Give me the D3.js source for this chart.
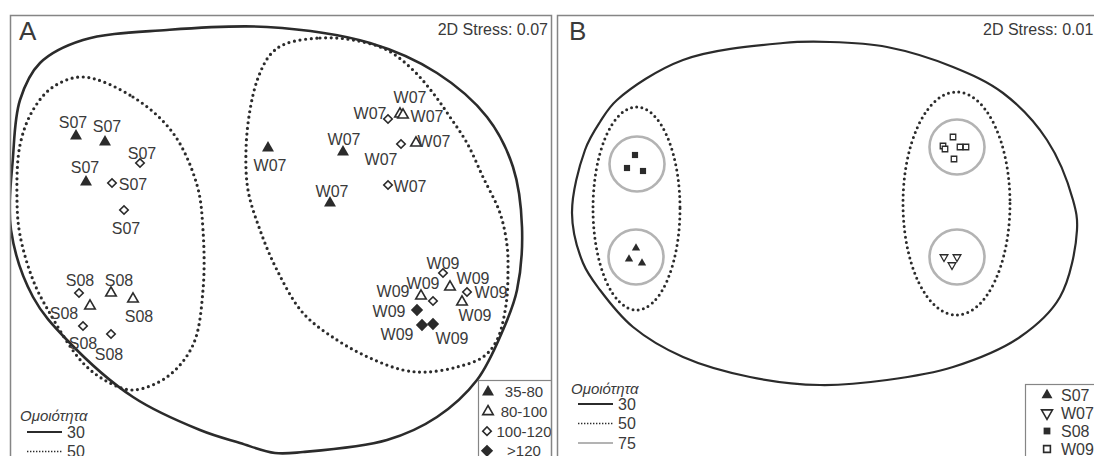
<!DOCTYPE html>
<html><head><meta charset="utf-8">
<script src="https://cdn.jsdelivr.net/npm/d3@7"></script>
<style>
html,body{margin:0;padding:0;background:#fff;}
svg{display:block;font-family:"Liberation Sans",Arial,Helvetica,sans-serif;}
</style></head><body>
<svg id="chart" width="1094" height="456"></svg>
<script>
// ---- categories and labels ----
const tempClasses = ["35-80", "80-100", "100-120", ">120"];
const groups = ["S07", "W07", "S08", "W09"];
const similarityLevels = ["30", "50", "75"];
const similarityTitle = "Ομοιότητα";
const panelTitles = ["A", "B"];
const stressLabels = ["2D Stress: 0.07", "2D Stress: 0.01"];

// ---- Panel A: MDS ordination of individual samples (t = temperature class index) ----
const s07A = [
  {x:-2.06, y:0.99, t:0, lx:-2.09, ly:1.13},
  {x:-1.77, y:0.93, t:0, lx:-1.75, ly:1.09},
  {x:-1.42, y:0.72, t:2, lx:-1.40, ly:0.82},
  {x:-1.96, y:0.53, t:0, lx:-1.97, ly:0.68},
  {x:-1.70, y:0.52, t:2, lx:-1.49, ly:0.51},
  {x:-1.58, y:0.25, t:2, lx:-1.56, ly:0.07}
];
const s08A = [
  {x:-2.03, y:-0.58, t:2, lx:-2.02, ly:-0.45},
  {x:-1.71, y:-0.58, t:1, lx:-1.63, ly:-0.45},
  {x:-1.49, y:-0.64, t:1, lx:-1.43, ly:-0.81},
  {x:-1.92, y:-0.71, t:1, lx:-2.18, ly:-0.78},
  {x:-1.99, y:-0.91, t:2, lx:-1.99, ly:-1.08},
  {x:-1.71, y:-0.99, t:2, lx:-1.73, ly:-1.19}
];
const w07A = [
  {x:-0.14, y:0.87, t:0, lx:-0.12, ly:0.70},
  {x:0.61, y:0.83, t:0, lx:0.62, ly:0.96},
  {x:0.48, y:0.32, t:0, lx:0.50, ly:0.44},
  {x:1.06, y:1.16, t:2, lx:0.88, ly:1.22},
  {x:1.18, y:1.21, t:1, lx:1.28, ly:1.38},
  {x:1.21, y:1.20, t:1, lx:1.45, ly:1.19},
  {x:1.19, y:0.91, t:2, lx:0.99, ly:0.76},
  {x:1.34, y:0.92, t:1, lx:1.52, ly:0.94},
  {x:1.06, y:0.50, t:2, lx:1.28, ly:0.49}
];
const w09A = [
  {x:1.61, y:-0.38, t:2, lx:1.61, ly:-0.28},
  {x:1.68, y:-0.52, t:1, lx:1.91, ly:-0.43},
  {x:1.85, y:-0.57, t:2, lx:2.09, ly:-0.57},
  {x:1.39, y:-0.61, t:1, lx:1.41, ly:-0.48},
  {x:1.51, y:-0.66, t:2, lx:1.11, ly:-0.56},
  {x:1.80, y:-0.67, t:1, lx:1.93, ly:-0.80},
  {x:1.35, y:-0.75, t:3, lx:1.07, ly:-0.76},
  {x:1.40, y:-0.90, t:3, lx:1.15, ly:-0.99},
  {x:1.51, y:-0.89, t:3, lx:1.70, ly:-1.03}
];

// cluster outlines in panel A (similarity 30 and 50)
const hullA30 = [[-2.71,0.05],[-2.69,0.78],[-2.62,1.35],[-2.42,1.72],[-1.99,1.95],[-1.15,2.05],
  [-0.15,2.08],[0.88,1.92],[1.55,1.62],[2.05,1.18],[2.31,0.68],[2.40,0.08],[2.35,-0.55],
  [2.21,-0.95],[1.95,-1.45],[1.55,-1.82],[1.05,-2.05],[0.21,-2.17],[-0.07,-2.18],[-0.42,-2.08],
  [-0.82,-1.95],[-1.49,-1.62],[-2.15,-1.05],[-2.49,-0.62]];
const hullA50s = [[-1.99,1.58],[-1.49,1.38],[-1.09,1.02],[-0.85,0.50],[-0.79,0.05],[-0.79,-0.55],
  [-0.89,-1.10],[-1.15,-1.42],[-1.49,-1.55],[-1.72,-1.48],[-1.99,-1.28],[-2.34,-0.75],
  [-2.49,-0.45],[-2.62,0.00],[-2.65,0.35],[-2.62,0.90],[-2.49,1.25],[-2.29,1.48]];
const hullA50w = [[0.03,1.91],[0.38,1.97],[0.71,1.95],[1.05,1.85],[1.31,1.65],[1.51,1.42],
  [1.68,1.18],[1.85,0.92],[2.01,0.58],[2.18,0.22],[2.25,-0.10],[2.26,-0.35],[2.24,-0.70],
  [2.15,-1.05],[2.01,-1.22],[1.75,-1.32],[1.45,-1.37],[1.21,-1.35],[0.88,-1.23],[0.55,-1.05],
  [0.21,-0.78],[-0.05,-0.35],[-0.22,0.05],[-0.34,0.45],[-0.36,0.85],[-0.32,1.25],[-0.24,1.57],[-0.12,1.80]];

// ---- Panel B: MDS ordination of group replicates ----
const s07B = [[-1.93,-0.13],[-2.00,-0.24],[-1.87,-0.28]];
const w07B = [[1.15,-0.22],[1.28,-0.22],[1.23,-0.30]];
const s08B = [[-1.94,0.80],[-2.02,0.67],[-1.86,0.64]];
const w09B = [[1.24,0.98],[1.14,0.89],[1.16,0.86],[1.31,0.88],[1.37,0.88],[1.25,0.76]];

// outlines in panel B: similarity 30 (closed curve), 50 (ellipses), 75 (circles)
const hullB30 = [[-2.57,0.22],[-2.44,0.85],[-2.29,1.13],[-2.12,1.35],[-1.46,1.75],[-0.46,1.92],
  [0.01,1.93],[0.58,1.88],[1.24,1.68],[1.74,1.42],[2.18,0.95],[2.44,0.35],[2.48,0.05],
  [2.31,-0.62],[1.91,-1.02],[1.24,-1.32],[0.58,-1.45],[-0.09,-1.50],[-0.79,-1.42],
  [-1.46,-1.22],[-1.96,-0.92],[-2.29,-0.55],[-2.46,-0.28]];
const ellipsesB50 = [{cx:-1.925, cy:0.265, rx:0.435, ry:1.015}, {cx:1.275, cy:0.315, rx:0.535, ry:1.115}];
const circlesB75 = [{cx:-1.92, cy:0.71, r:0.275}, {cx:-1.93, cy:-0.22, r:0.275},
                    {cx:1.28, cy:0.88, r:0.275}, {cx:1.28, cy:-0.22, r:0.275}];

// ---- layout ----
const svg = d3.select("#chart");
const ink = "#2b2b2b", textInk = "#3a3a3a", frame = "#858585", grey75 = "#b3b3b3";
const panelTop = 15, panelBottom = 480;

const xA = d3.scaleLinear().domain([-2.72, 2.70]).range([10, 552]);
const yA = d3.scaleLinear().domain([2.20, -2.45]).range([panelTop, panelBottom]);
const xB = d3.scaleLinear().domain([-2.72, 2.71]).range([557, 1100]);
const yB = yA.copy();

// symbol helpers
function sym(kind, size) {
  const map = {tri: d3.symbolTriangle, sq: d3.symbolSquare, dia: d3.symbolSquare};
  return d3.symbol().type(map[kind]).size(size)();
}
function rotFor(kind) { return kind === "dia" ? 45 : 0; }

// temperature class styles in panel A
const tempStyle = [
  {kind:"tri", fill:ink, stroke:"none", size:62, rot:0},
  {kind:"tri", fill:"#fff", stroke:ink, size:48, rot:0},
  {kind:"dia", fill:"#fff", stroke:ink, size:36, rot:45},
  {kind:"dia", fill:ink, stroke:ink, size:50, rot:45}
];
// group styles in panel B
const groupStyle = {
  S07: {kind:"tri", fill:ink, stroke:"none", size:30, rot:0},
  W07: {kind:"tri", fill:"#fff", stroke:ink, size:26, rot:180},
  S08: {kind:"sq", fill:ink, stroke:"none", size:38, rot:0},
  W09: {kind:"sq", fill:"#fff", stroke:ink, size:30, rot:0}
};

function drawSymbol(g, px, py, st, sw) {
  g.append("path")
    .attr("d", sym(st.kind, st.size))
    .attr("transform", `translate(${px},${py}) rotate(${st.rot})`)
    .attr("fill", st.fill)
    .attr("stroke", st.stroke)
    .attr("stroke-width", sw)
    .attr("stroke-linejoin", "miter");
}

const closedCurve = (x, y) => d3.line()
  .curve(d3.curveCatmullRomClosed.alpha(0.5))
  .x(d => x(d[0])).y(d => y(d[1]));

// clip paths for panels
const defs = svg.append("defs");
[["clipA", xA], ["clipB", xB]].forEach(([id, x]) => {
  defs.append("clipPath").attr("id", id).append("rect")
    .attr("x", x.range()[0]).attr("y", panelTop)
    .attr("width", x.range()[1] - x.range()[0]).attr("height", panelBottom - panelTop);
});

// ================= Panel A =================
const gA = svg.append("g").attr("clip-path", "url(#clipA)");

gA.append("path").attr("d", closedCurve(xA, yA)(hullA30))
  .attr("fill", "none").attr("stroke", ink).attr("stroke-width", 2.6);
[hullA50s, hullA50w].forEach(h => {
  gA.append("path").attr("d", closedCurve(xA, yA)(h))
    .attr("fill", "none").attr("stroke", ink).attr("stroke-width", 3.2)
    .attr("stroke-linecap", "round").attr("stroke-dasharray", "0 5.6");
});

const samplesA = [
  {name: groups[0], pts: s07A}, {name: groups[2], pts: s08A},
  {name: groups[1], pts: w07A}, {name: groups[3], pts: w09A}
];
samplesA.forEach(grp => {
  grp.pts.forEach(p => {
    drawSymbol(gA, xA(p.x), yA(p.y), tempStyle[p.t], 1.6);
  });
});
samplesA.forEach(grp => {
  grp.pts.forEach(p => {
    gA.append("text").attr("x", xA(p.lx)).attr("y", yA(p.ly)).attr("dy", "0.36em")
      .attr("text-anchor", "middle").attr("font-size", 16).attr("fill", textInk)
      .text(grp.name);
  });
});

// panel A labels
gA.append("text").attr("x", 19).attr("y", 40).attr("font-size", 26).attr("fill", textInk).text(panelTitles[0]);
gA.append("text").attr("x", 548).attr("y", 35).attr("text-anchor", "end").attr("font-size", 16)
  .attr("fill", textInk).text(stressLabels[0]);

// temperature legend
const legA = gA.append("g");
legA.append("rect").attr("x", 478.5).attr("y", 380.5).attr("width", 80).attr("height", 110)
  .attr("fill", "#fff").attr("stroke", frame).attr("stroke-width", 1.2);
tempClasses.forEach((c, i) => {
  const yy = 392 + i * 19.6;
  drawSymbol(legA, tempStyle[i].kind === "dia" ? 487 : 488, yy, tempStyle[i], 1.6);
  legA.append("text").attr("x", 524).attr("y", yy).attr("dy", "0.36em").attr("text-anchor", "middle")
    .attr("font-size", 15).attr("fill", textInk).text(c);
});

// similarity legend (A)
function similarityLegend(g, x0, yTitle, yFirst, levels) {
  g.append("text").attr("x", x0).attr("y", yTitle).attr("font-size", 15).attr("font-style", "italic")
    .attr("fill", textInk).text(similarityTitle);
  levels.forEach((lv, i) => {
    const yy = yFirst + i * 19.5;
    const line = g.append("line").attr("x1", x0 + 7).attr("x2", x0 + 42).attr("y1", yy).attr("y2", yy);
    if (i === 0) line.attr("stroke", ink).attr("stroke-width", 2);
    else if (i === 1) line.attr("stroke", ink).attr("stroke-width", 1.6).attr("stroke-dasharray", "1.4 1.6");
    else line.attr("stroke", grey75).attr("stroke-width", 2);
    g.append("text").attr("x", x0 + 47).attr("y", yy).attr("dy", "0.36em").attr("font-size", 16)
      .attr("fill", textInk).text(lv);
  });
}
similarityLegend(gA, 20, 421, 432, similarityLevels.slice(0, 2));

// ================= Panel B =================
const gB = svg.append("g").attr("clip-path", "url(#clipB)");

gB.append("path").attr("d", closedCurve(xB, yB)(hullB30))
  .attr("fill", "none").attr("stroke", ink).attr("stroke-width", 2.2);
ellipsesB50.forEach(e => {
  gB.append("ellipse")
    .attr("cx", xB(e.cx)).attr("cy", yB(e.cy))
    .attr("rx", xB(e.cx + e.rx) - xB(e.cx)).attr("ry", yB(e.cy - e.ry) - yB(e.cy))
    .attr("fill", "none").attr("stroke", ink).attr("stroke-width", 3)
    .attr("stroke-linecap", "round").attr("stroke-dasharray", "0 5.3");
});
circlesB75.forEach(c => {
  gB.append("circle").attr("cx", xB(c.cx)).attr("cy", yB(c.cy))
    .attr("r", xB(c.cx + c.r) - xB(c.cx))
    .attr("fill", "none").attr("stroke", grey75).attr("stroke-width", 2.6);
});

[[groups[0], s07B], [groups[1], w07B], [groups[2], s08B], [groups[3], w09B]].forEach(([name, pts]) => {
  pts.forEach(p => drawSymbol(gB, xB(p[0]), yB(p[1]), groupStyle[name], 1.3));
});

gB.append("text").attr("x", 569).attr("y", 40).attr("font-size", 26).attr("fill", textInk).text(panelTitles[1]);
gB.append("text").attr("x", 983).attr("y", 35).attr("font-size", 16)
  .attr("fill", textInk).text(stressLabels[1]);

// group legend
const legB = gB.append("g");
legB.append("rect").attr("x", 1025.5).attr("y", 384.5).attr("width", 90).attr("height", 110)
  .attr("fill", "#fff").attr("stroke", frame).attr("stroke-width", 1.2);
groups.forEach((gname, i) => {
  const yy = 395 + i * 18;
  const st = Object.assign({}, groupStyle[gname]);
  st.size = st.kind === "tri" ? 52 : 46;
  drawSymbol(legB, 1047, yy, st, 1.6);
  legB.append("text").attr("x", 1061).attr("y", yy).attr("dy", "0.36em")
    .attr("font-size", 16).attr("fill", textInk).text(gname);
});

similarityLegend(gB, 571, 394, 404, similarityLevels);

// panel frames
[xA, xB].forEach(x => {
  svg.append("rect").attr("x", x.range()[0] + 0.5).attr("y", panelTop + 0.5)
    .attr("width", x.range()[1] - x.range()[0] - 1).attr("height", panelBottom - panelTop)
    .attr("fill", "none").attr("stroke", frame).attr("stroke-width", 1.5);
});
</script>
</body></html>
